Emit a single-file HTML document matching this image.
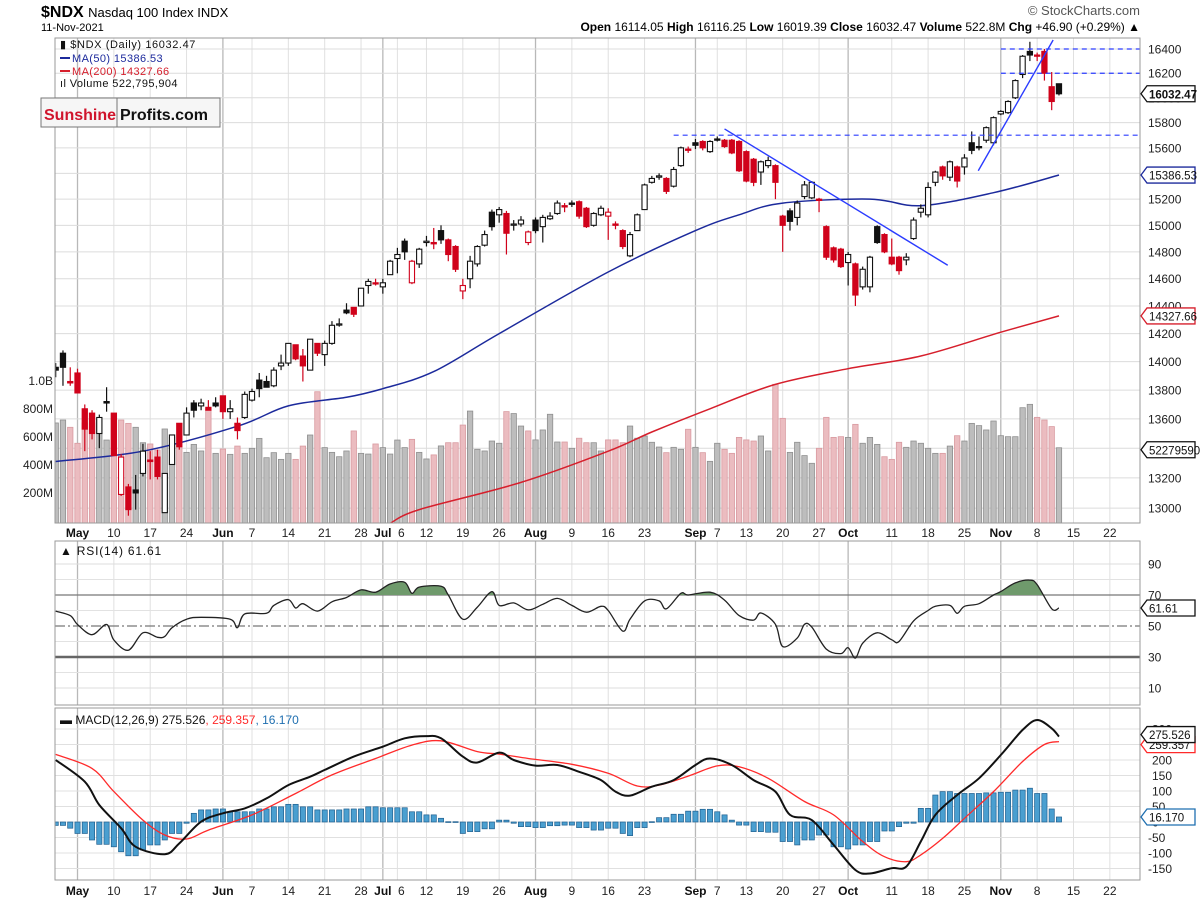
<!DOCTYPE html>
<html><head><meta charset="utf-8"><title>$NDX Nasdaq 100 Index</title>
<style>
html,body{margin:0;padding:0;background:#fff;}
svg{display:block;font-family:"Liberation Sans",sans-serif;}
.ax{font-size:12px;fill:#222;}
.axb{font-size:12px;fill:#111;font-weight:bold;}
</style></head>
<body>
<svg id="chart" width="1200" height="901" viewBox="0 0 1200 901" xmlns="http://www.w3.org/2000/svg">
<rect x="0" y="0" width="1200" height="901" fill="#fff"/>
<g>
<text x="41" y="17" style="font-size:16px;font-weight:bold" fill="#000">$NDX <tspan style="font-weight:normal;font-size:13px">Nasdaq 100 Index INDX</tspan></text>
<text x="41" y="31" style="font-size:11px" fill="#000">11-Nov-2021</text>
<text x="1140" y="31" text-anchor="end" style="font-size:12px" fill="#000"><tspan font-weight="bold">Open</tspan> 16114.05  <tspan font-weight="bold">High</tspan> 16116.25  <tspan font-weight="bold">Low</tspan> 16019.39  <tspan font-weight="bold">Close</tspan> 16032.47  <tspan font-weight="bold">Volume</tspan> 522.8M  <tspan font-weight="bold">Chg</tspan> +46.90 (+0.29%) ▲</text>
<text x="1140" y="15" text-anchor="end" style="font-size:13px" fill="#555">© StockCharts.com</text>
</g>
<g id="mainPanel"></g>
<g id="rsiPanel"></g>
<g id="macdPanel"></g>
<g>
<text x="60" y="48" style="font-size:11px;letter-spacing:0.6px" fill="#111">▮ $NDX (Daily) 16032.47</text>
<line x1="60" y1="58" x2="70" y2="58" stroke="#1c2a9c" stroke-width="2"/>
<text x="72" y="62" style="font-size:11px;letter-spacing:0.4px" fill="#1c2a9c">MA(50) 15386.53</text>
<line x1="60" y1="71" x2="70" y2="71" stroke="#d61f2c" stroke-width="2"/>
<text x="72" y="75" style="font-size:11px;letter-spacing:0.4px" fill="#d61f2c">MA(200) 14327.66</text>
<text x="60" y="87" style="font-size:11px;letter-spacing:0.4px" fill="#111">ıl Volume 522,795,904</text>
</g>
<g>
<rect x="41" y="98" width="179" height="29" fill="#f6f6f6" stroke="#777"/>
<line x1="117" y1="98" x2="117" y2="127" stroke="#777"/>
<text x="44" y="120" style="font-size:16px;font-weight:bold" fill="#d0142c">Sunshine</text>
<text x="120" y="120" style="font-size:16px;font-weight:bold" fill="#111">Profits.com</text>
</g>
</svg>
<script>
// ---------- DATA ----------
const opens=[13960,14060,13860,13920,13670,13640,13500,13720,13640,13090,13140,13120,13230,13320,13340,12970,13290,13570,13490,13710,13690,13680,13710,13760,13650,13570,13610,13730,13870,13860,13830,13970,13990,14120,14040,13940,14130,14050,14130,14265,14370,14390,14400,14550,14570,14540,14630,14750,14880,14570,14710,14870,14870,14960,14890,14840,14510,14600,14710,14850,15100,15080,15090,15010,15010,14870,15040,14990,15050,15090,15150,15170,15180,15130,15000,15080,15070,15010,14960,14770,14960,15120,15330,15370,15360,15300,15460,15590,15640,15650,15570,15670,15660,15660,15650,15570,15510,15410,15460,15460,15070,15110,15060,15220,15210,15200,14990,14830,14820,14720,14710,14540,14540,14990,14930,14760,14760,14740,14900,15100,15080,15330,15450,15370,15450,15450,15640,15610,15660,15640,15870,15880,16000,16190,16380,16350,16380,16090,16114];
const highs=[13990,14080,13960,13950,13700,13660,13630,13820,13640,13360,13160,13220,13430,13380,13390,13230,13490,13570,13680,13730,13740,13730,13750,13760,13730,13610,13790,13810,13920,13900,13960,14050,14130,14120,14090,14160,14130,14150,14290,14310,14420,14390,14530,14600,14600,14600,14740,14830,14900,14740,14830,14920,14980,15000,14900,14850,14600,14770,14850,14960,15120,15140,15110,15040,15070,14960,15060,15080,15100,15190,15170,15190,15190,15140,15100,15150,15130,15030,14970,14950,15090,15320,15380,15400,15370,15450,15610,15610,15670,15660,15660,15690,15670,15670,15660,15580,15520,15500,15530,15470,15080,15130,15190,15340,15340,15210,15000,14840,14830,14800,14720,14690,14770,15000,14940,14900,14770,14790,15060,15160,15330,15420,15460,15500,15460,15550,15730,15690,15770,15850,15900,15980,16150,16350,16460,16370,16400,16210,16116];
const lows=[13890,13830,13830,13780,13380,13460,13400,13650,13350,13080,12950,12990,13210,13190,13190,12970,13290,13390,13490,13610,13660,13660,13680,13600,13600,13460,13600,13720,13750,13820,13820,13940,13970,14010,13860,13940,14040,13970,14120,14250,14340,14320,14400,14490,14550,14490,14630,14640,14740,14560,14680,14840,14820,14860,14730,14650,14450,14530,14690,14840,14960,15020,14780,14960,14990,14850,14940,14870,15040,15080,15100,15140,15050,14980,14990,15070,14890,14970,14820,14760,14960,15120,15320,15350,15240,15290,15450,15560,15590,15580,15560,15650,15600,15550,15410,15330,15300,15310,15440,15200,14800,14960,15000,15200,15200,15100,14740,14720,14680,14550,14400,14520,14500,14860,14790,14700,14630,14700,14890,15060,15060,15300,15350,15340,15290,15390,15550,15580,15640,15620,15860,15870,15990,16160,16300,16300,16140,15900,16019];
const closes=[13940,13960,13850,13780,13530,13500,13610,13710,13350,13340,12990,13100,13380,13310,13210,13230,13490,13410,13640,13660,13710,13660,13690,13650,13670,13520,13770,13790,13810,13820,13940,13990,14130,14020,13970,14160,14060,14130,14260,14270,14350,14340,14530,14580,14565,14570,14730,14780,14800,14730,14820,14880,14860,14890,14780,14670,14550,14730,14840,14930,14990,15120,14940,15010,15040,14950,14960,15060,15070,15170,15140,15160,15070,14990,15090,15130,15100,15000,14840,14930,15080,15310,15360,15380,15260,15430,15600,15580,15620,15600,15650,15660,15610,15560,15420,15340,15330,15490,15500,15330,15000,15030,15170,15310,15330,15190,14760,14740,14690,14780,14480,14670,14760,14870,14800,14710,14660,14760,15040,15130,15290,15410,15380,15490,15340,15520,15580,15600,15760,15840,15890,15970,16140,16340,16350,16340,16200,15970,16032.47];
const volumes=[700,721,669,555,700,700,726,578,764,721,697,669,559,550,507,657,597,528,490,547,500,800,483,514,476,535,483,519,590,452,488,440,483,440,535,614,923,524,490,459,500,643,483,478,550,524,478,578,524,583,490,443,472,536,559,559,685,785,512,500,571,555,781,767,678,643,579,650,762,564,564,519,591,559,559,500,579,579,559,678,591,607,562,528,488,526,512,655,526,488,426,555,512,483,597,579,571,607,500,976,733,490,562,467,412,519,740,597,602,597,690,555,597,547,459,440,562,526,571,555,519,483,483,535,609,571,697,681,650,714,609,602,602,809,833,740,721,674,523];
const ma50Idx=[0,12,25,32,40,45,52,61,76,88,94,100,112,119,129,138];
const ma50=[13310,13380,13550,13690,13750,13810,13930,14200,14650,14960,15080,15170,15200,15150,15250,15386.53];
const ma200Idx=[46,50,64,76,82,90,99,109,119,130,138];
const ma200=[12900,12990,13170,13380,13510,13670,13840,13950,14040,14210,14327.66];
const tickLabels=["May","10","17","24","Jun","7","14","21","28","Jul","6","12","19","26","Aug","9","16","23","Sep","7","13","20","27","Oct","11","18","25","Nov","8","15","22"];
const tickDays=[0,5,10,15,20,24,29,34,39,42,44,48,53,58,63,68,73,78,85,88,92,97,102,106,112,117,122,127,132,137,142];
const priceTicks=[16400,16200,16000,15800,15600,15400,15200,15000,14800,14600,14400,14200,14000,13800,13600,13400,13200,13000];
const volTicks=[1000,800,600,400,200];
const volTickLabels=["1.0B","800M","600M","400M","200M"];
const levelPrices=[16400,16200,15700];
const levelStart=[130,130,85];
const trendFrom=[[92,15750],[126.9,15420]];
const trendTo=[[122.7,14700],[137.2,16475]];
const rsiIdx=[0,2,3,5,7,8,10,12,14,15,16,18,20,24,25,26,29,30,32,33,34,36,38,40,42,44,46,48,49,50,53,54,56,58,60,61,63,65,67,69,71,73,75,76,78,79,81,83,84,86,87,90,92,94,96,97,99,100,102,103,104,106,108,109,110,111,113,115,116,118,120,121,123,124,125,127,129,130,132,134,135,137,138];
const rsiVals=[59.6,56.7,51,44.4,51,41,34.4,45.6,42.7,43.3,48.9,54.4,55.6,54.4,48.9,57.8,58.2,63.3,67,61.6,64.4,59.6,65.6,68.4,73.3,71.8,77.1,78.2,71.1,75.1,75.6,70,54.4,62.2,72.2,63.3,64.9,60.4,64,67.8,63.3,58.9,62.7,60,46.7,54.4,66.2,66.2,61.1,71.1,70,71.8,66.7,56.7,53.8,58.4,51.1,36.7,42.2,51.1,49.3,35.1,32.2,36,29.3,38.9,45.6,41.1,40,53.3,60,62.7,63.3,58.2,62.7,64.4,70,72.2,77.8,79.6,76.7,61.1,61.61];
const rsiTicks=[90,70,50,30,10];
const macdIdx=[0,4,6,9,11,15,17,20,23,26,29,32,35,37,41,45,48,51,53,56,58,61,63,66,69,72,75,77,79,82,85,88,90,93,96,99,101,104,107,110,112,115,117,119,121,124,127,130,133,135,137,138];
const macdVals=[200,130,55,-20,-80,-104,-69,1,28,44,76,119,146,168,211,243,270,277,270,211,192,224,200,182,184,162,135,98,85,114,135,184,205,184,135,98,23,6,-74,-155,-166,-149,-144,-63,23,87,141,216,297,329,302,275.5];
const signalIdx=[0,5,8,12,15,18,21,27,33,38,44,49,53,58,61,65,71,76,80,83,87,91,94,98,103,107,111,114,117,119,122,125,129,133,136,138];
const signalVals=[218,173,98,6,-42,-55,-26,23,92,152,205,248,262,227,219,205,186,157,116,119,148,181,178,141,66,23,-63,-112,-128,-106,-53,12,98,195,250,259.4];
const histIdx=[0,2,3,5,6,8,9,10,12,13,15,16,18,19,20,22,24,26,28,30,32,34,36,38,41,43,45,47,49,51,53,54,56,57,59,61,63,64,66,68,70,72,74,76,78,79,80,82,83,85,87,89,91,92,93,94,96,98,100,102,103,105,107,109,110,112,114,116,117,119,121,122,124,126,128,130,132,134,135,137,138];
const histVals=[-11,-20,-37,-58,-72,-80,-96,-109,-90,-74,-58,-37,-4,28,39,42,33,33,42,49,57,49,39,39,42,49,46,46,33,23,12,1,-37,-31,-22,6,-4,-15,-18,-12,-10,-18,-26,-20,-37,-44,-18,1,14,25,35,41,33,23,6,-10,-31,-33,-63,-74,-58,-42,-80,-87,-74,-63,-29,-15,-4,44,87,98,92,92,94,96,103,109,92,42,16.17];
const macdTicks=[300,250,200,150,100,50,0,-50,-100,-150];

// ---------- SCALES ----------
const X0=55, X1=1140;
const xi=i=>55.7+i*7.27;
const py=p=>49+1976*Math.log(16400/p);
const vy=v=>521-v/7.14;
const ry=v=>626-(v-50)*1.55;
const my=v=>822-v*0.31;
const NS="http://www.w3.org/2000/svg";
function mk(tag,attrs,parent){const e=document.createElementNS(NS,tag);for(const k in attrs)e.setAttribute(k,attrs[k]);parent.appendChild(e);return e;}
const svg=document.getElementById('chart');
const defs=mk('defs',{},svg);
const cp=mk('clipPath',{id:'clipMain'},defs);mk('rect',{x:X0,y:38,width:X1-X0,height:485},cp);
const cr=mk('clipPath',{id:'clipRsiTop'},defs);mk('rect',{x:X0,y:541,width:X1-X0,height:ry(70)-541},cr);
const cm=mk('clipPath',{id:'clipMacd'},defs);mk('rect',{x:X0,y:708,width:X1-X0,height:172},cm);

function panelFrame(g,y0,y1){
  tickDays.forEach((d,k)=>{
    const x=xi(d+3);
    const month=/[A-Za-z]/.test(tickLabels[k]);
    const ln=mk('line',{x1:x,y1:y0,x2:x,y2:y1,stroke:month?'#b8b8b8':'#e0e0e0','stroke-width':month?1.3:1},g);
    
    
  });
}
function xLabels(g,y){
  tickDays.forEach((d,k)=>{
    const month=/[A-Za-z]/.test(tickLabels[k]);
    const x=xi(d+3)+(tickLabels[k]==="6"?4:0);
    const t=mk('text',{x:x,y:y,'text-anchor':'middle',class:month?'axb':'ax'},g);
    t.textContent=tickLabels[k];
    
    
  });
}
function valueBox(g,y,text,color,bold){
  const w=48;
  mk('polygon',{points:`${X1+1},${y} ${X1+7},${y-8} ${X1+7+w},${y-8} ${X1+7+w},${y+8} ${X1+7},${y+8}`,fill:'#fff',stroke:color,'stroke-width':1.3},g);
  const t=mk('text',{x:X1+9,y:y+4.5,style:`font-size:11.5px;${bold?'font-weight:bold;':''}`,fill:'#111'},g);
  t.textContent=text;
  return t;
}
function smoothPath(pts){
  let d=`M${pts[0][0].toFixed(1)},${pts[0][1].toFixed(1)}`;
  for(let k=0;k<pts.length-1;k++){
    const p0=pts[k-1]||pts[k],p1=pts[k],p2=pts[k+1],p3=pts[k+2]||p2;
    const c1x=p1[0]+(p2[0]-p0[0])/6,c1y=p1[1]+(p2[1]-p0[1])/6;
    const c2x=p2[0]-(p3[0]-p1[0])/6,c2y=p2[1]-(p3[1]-p1[1])/6;
    d+=` C${c1x.toFixed(1)},${c1y.toFixed(1)} ${c2x.toFixed(1)},${c2y.toFixed(1)} ${p2[0].toFixed(1)},${p2[1].toFixed(1)}`;
  }
  return d;
}
function lineFrom(idx,vals,yf,parent,color,w,name){
  const pts=idx.map((d,k)=>[xi(d),yf(vals[k])]);
  const pl=mk('path',{d:smoothPath(pts),fill:'none',stroke:color,'stroke-width':w,'stroke-linejoin':'round'},parent);
  
  
  return pl;
}

// ---------- MAIN PANEL ----------
const main=document.getElementById('mainPanel');
panelFrame(main,38,523);
priceTicks.forEach(p=>{
  const y=py(p);
  const l=mk('line',{x1:X0,y1:y,x2:X1,y2:y,stroke:'#dcdcdc'},main);
  
  
  const t=mk('text',{x:X1+8,y:y+4.5,class:'ax'},main);
  t.textContent=p;
  
  
});
volTicks.forEach((v,k)=>{
  const t=mk('text',{x:53,y:vy(v)+4,'text-anchor':'end',class:'ax'},main);
  t.textContent=volTickLabels[k];
  
  
});
const plot=mk('g',{'clip-path':'url(#clipMain)'},main);
volumes.forEach((v,i)=>{
  const down=i>0&&closes[i]<closes[i-1];
  const r=mk('rect',{x:xi(i)-2.7,y:vy(v),width:5.4,height:521-vy(v)+3,fill:down?'#ebbcc0':'#bdbdbd',stroke:down?'#d99aa0':'#8f8f8f','stroke-width':0.8},plot);
  
  
});
lineFrom(ma50Idx,ma50,py,plot,'#1c2a9c',1.5,'ma50-line');
lineFrom(ma200Idx,ma200,py,plot,'#d61f2c',1.5,'ma200-line');
closes.forEach((c,i)=>{
  const o=opens[i],h=highs[i],l=lows[i];
  const down=i>0&&c<closes[i-1];
  const col=down?'#d0021b':'#111';
  const x=xi(i);
  const g=mk('g',{},plot);
  
  
  mk('line',{x1:x,y1:py(h),x2:x,y2:py(l),stroke:col,'stroke-width':1.2},g);
  const top=py(Math.max(o,c)),bot=py(Math.min(o,c));
  mk('rect',{x:x-2.6,y:top,width:5.2,height:Math.max(bot-top,1.2),fill:c>=o?'#fff':col,stroke:col,'stroke-width':1.1},g);
});
levelPrices.forEach((p,k)=>{
  const l=mk('line',{x1:xi(levelStart[k]),y1:py(p),x2:X1,y2:py(p),stroke:'#2b3cff','stroke-width':1.2,'stroke-dasharray':'5,4'},plot);
  
  
});
trendFrom.forEach((a,k)=>{
  const b=trendTo[k];
  const l=mk('line',{x1:xi(a[0]),y1:py(a[1]),x2:xi(b[0]),y2:py(b[1]),stroke:'#2b3cff','stroke-width':1.4},plot);
  
  
});
mk('rect',{x:X0,y:38,width:X1-X0,height:485,fill:'none',stroke:'#9a9a9a'},main);
valueBox(main,py(closes[closes.length-1]),'16032.47','#111',true);
valueBox(main,py(ma50[ma50.length-1]),'15386.53','#1c2a9c',false);
valueBox(main,py(ma200[ma200.length-1]),'14327.66','#d61f2c',false);
valueBox(main,vy(volumes[volumes.length-1])+2,'522795904','#111',false);
xLabels(main,537);

// ---------- RSI PANEL ----------
const rsi=document.getElementById('rsiPanel');
panelFrame(rsi,541,705);
[80,60,40,20].forEach(v=>mk('line',{x1:X0,y1:ry(v),x2:X1,y2:ry(v),stroke:'#e2e2e2'},rsi));
mk('line',{x1:X0,y1:ry(90),x2:X1,y2:ry(90),stroke:'#dcdcdc'},rsi);
mk('line',{x1:X0,y1:ry(10),x2:X1,y2:ry(10),stroke:'#dcdcdc'},rsi);
mk('line',{x1:X0,y1:ry(70),x2:X1,y2:ry(70),stroke:'#777','stroke-width':1.3},rsi);
mk('line',{x1:X0,y1:ry(50),x2:X1,y2:ry(50),stroke:'#777','stroke-width':1.2,'stroke-dasharray':'10,3,2,3'},rsi);
mk('line',{x1:X0,y1:ry(30),x2:X1,y2:ry(30),stroke:'#666','stroke-width':2.5},rsi);
rsiTicks.forEach(v=>{
  const t=mk('text',{x:X1+8,y:ry(v)+4.5,class:'ax'},rsi);
  t.textContent=v;
  
  
});
const rsiPts=rsiIdx.map((d,k)=>[xi(d),ry(rsiVals[k])]);
const fillD=smoothPath(rsiPts)+` L${xi(rsiIdx[rsiIdx.length-1])},${ry(70)} L${xi(rsiIdx[0])},${ry(70)} Z`;
const fillPoly=mk('path',{d:fillD,fill:'#6f9a6c',stroke:'none','clip-path':'url(#clipRsiTop)'},rsi);


lineFrom(rsiIdx,rsiVals,ry,rsi,'#222',1.3,'rsi-line');
mk('rect',{x:X0,y:541,width:X1-X0,height:164,fill:'none',stroke:'#9a9a9a'},rsi);
valueBox(rsi,ry(61.61),'61.61','#111',false);
const rl=mk('text',{x:60,y:555,style:'font-size:12px;letter-spacing:0.8px',fill:'#111'},rsi);
rl.textContent='▲ RSI(14) 61.61';



// ---------- MACD PANEL ----------
const macd=document.getElementById('macdPanel');
panelFrame(macd,708,880);
macdTicks.forEach(v=>{
  mk('line',{x1:X0,y1:my(v),x2:X1,y2:my(v),stroke:'#e0e0e0'},macd);
  const t=mk('text',{x:X1+(v<0?8:12),y:my(v)+4.5,class:'ax'},macd);
  t.textContent=v;
  
  
});
const mplot=mk('g',{'clip-path':'url(#clipMacd)'},macd);
for(let i=0;i<closes.length;i++){
  let best=0;for(let k=1;k<histIdx.length;k++){if(Math.abs(histIdx[k]-i)<Math.abs(histIdx[best]-i))best=k;}
  const v=histVals[best];
  const y0=my(0),y1=my(v);
  const r=mk('rect',{x:xi(i)-2.6,y:Math.min(y0,y1),width:5.2,height:Math.max(Math.abs(y1-y0),0.8),fill:'#4a9fd0',stroke:'#1f5f8f','stroke-width':0.7},mplot);
  
  
}
lineFrom(signalIdx,signalVals,my,mplot,'#ff2a2a',1.3,'macd-signal-line');
lineFrom(macdIdx,macdVals,my,mplot,'#111',2,'macd-line');
mk('rect',{x:X0,y:708,width:X1-X0,height:172,fill:'none',stroke:'#9a9a9a'},macd);
valueBox(macd,my(259.357)+3,'259.357','#ff2a2a',false);
valueBox(macd,my(275.526)-2,'275.526','#111',false);
valueBox(macd,my(16.17),'16.170','#1f6fb0',false);
const ml=mk('text',{x:60,y:724,style:'font-size:12px',fill:'#111'},macd);
ml.innerHTML='▬ MACD(12,26,9) 275.526<tspan fill="#ff2a2a">, 259.357</tspan><tspan fill="#1f6fb0">, 16.170</tspan>';


xLabels(macd,895);
</script>
</body></html>
